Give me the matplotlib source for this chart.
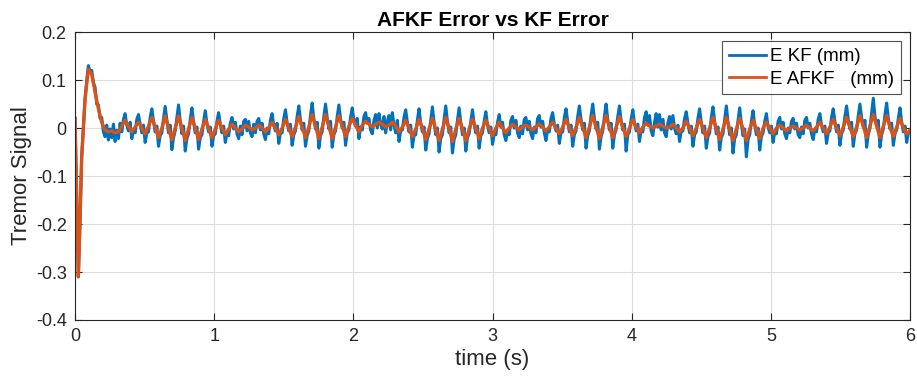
import numpy as np
import matplotlib.pyplot as plt

plt.rcParams['font.family'] = ['Liberation Sans', 'DejaVu Sans']

# AFKF error (mm), sampled every 0.024 s
e_afkf = np.array([
    20, -310, -60, 60, 122, 112, 75, 40, 12, -4,
    -8, -6, -10, -8, 4, 16, 4, -8, 2, 12,
    0, -12, 4, 22, 2, -20, 0, 25, 0, -24,
    0, 25, 0, -26, -2, 22, 0, -24, -2, 18,
    0, -20, -2, 16, 0, -14, -2, 8, 0, -8,
    -2, 6, 2, -4, 0, 6, 0, -8, 0, 12,
    0, -14, 0, 18, 0, -18, 2, 24, 2, -20,
    2, 28, 4, -22, 2, 28, 4, -22, 2, 26,
    4, -18, 4, 20, 6, -8, 6, 14, 8, 2,
    8, 12, 8, 2, 6, 12, 4, -8, 2, 16,
    0, -18, -2, 18, 0, -24, -2, 20, -2, -26,
    -2, 22, 0, -28, -2, 20, -2, -26, -2, 18,
    0, -22, 0, 16, 0, -16, 0, 12, 0, -10,
    0, 8, 2, -4, 2, 6, 2, -4, 2, 8,
    2, -6, 2, 12, 0, -12, 2, 18, 0, -16,
    2, 22, 2, -20, 2, 26, 2, -22, 2, 26,
    2, -20, 2, 24, 2, -18, 0, 18, 2, -10,
    2, 10, 4, 0, 4, 8, 4, 0, 2, 8,
    0, -8, 0, 14, 0, -16, 0, 18, 0, -20,
    0, 22, -2, -24, -2, 22, -2, -26, -2, 20,
    -2, -26, -2, 16, -2, -22, 0, 12, 0, -12,
    0, 6, 0, -6, 0, 4, 0, -4, 0, 6,
    0, -6, 2, 12, 0, -12, 2, 18, 0, -16,
    2, 22, 2, -18, 2, 26, 4, -20, 4, 28,
    4, -20, 4, 26, 2, -18, 2, 20, 0, -12,
    -4,
]) / 1000.0

# KF error (mm), sampled every 0.012 s
e_kf = np.array([
    20, -150, -310, -200, -60, 0, 60, 100, 130, 118,
    120, 95, 85, 50, 48, 20, 22, -8, -18, 6,
    -25, -2, -20, 8, -28, -5, -22, 10, -8, 18,
    30, 6, -6, 12, -22, -4, -10, 18, 28, 8,
    -10, 6, -30, -10, -8, 22, 40, 14, -8, 4,
    -38, -16, -10, 20, 45, 18, -10, 6, -45, -20,
    -6, 22, 48, 15, -12, 4, -48, -22, -12, 18,
    42, 12, -10, 2, -44, -20, -14, 14, 36, 10,
    -8, 2, -38, -16, -12, 14, 32, 8, -10, 4,
    -30, -10, -16, 10, 22, -2, 12, -12, -22, 4,
    -14, 14, 18, -6, 14, -10, -18, 8, -10, 14,
    20, -4, 10, -12, -24, 0, -12, 16, 30, 6,
    -6, 10, -32, -10, -10, 20, 38, 12, -6, 8,
    -36, -14, -6, 24, 46, 18, -4, 10, -38, -16,
    -6, 26, 52, 20, -2, 12, -42, -16, -8, 24,
    50, 22, -2, 14, -40, -14, -6, 24, 48, 20,
    0, 12, -36, -10, -4, 22, 42, 16, 4, 20,
    -22, 2, -4, 24, 32, 10, 20, -4, -12, 16,
    28, 0, 30, 8, -2, 24, -10, 14, 26, -4,
    32, 6, -10, 16, -28, -6, -4, 22, 38, 12,
    -8, 6, -40, -16, -14, 16, 40, 10, -8, 2,
    -46, -22, -12, 16, 44, 12, -14, 0, -50, -22,
    -14, 18, 46, 14, -10, 2, -52, -24, -14, 16,
    42, 12, -14, 0, -48, -20, -12, 14, 38, 8,
    -10, 4, -42, -16, -10, 14, 34, 6, -10, 2,
    -34, -12, -14, 12, 28, 2, 12, -14, -26, -4,
    -14, 16, 24, 0, 16, -10, -20, 4, -12, 18,
    22, -4, 14, -12, -22, 2, -10, 20, 26, 2,
    14, -10, -26, -4, -8, 20, 32, 8, -6, 6,
    -32, -10, -8, 22, 40, 14, -8, 6, -38, -14,
    -6, 24, 46, 18, -4, 10, -42, -16, -6, 26,
    50, 20, -2, 12, -44, -18, -6, 24, 50, 18,
    -4, 10, -42, -14, -4, 24, 46, 16, -4, 8,
    -48, -14, -8, 18, 38, 10, -6, 8, -28, -4,
    -8, 22, 34, 6, 26, -6, -16, 12, 30, 2,
    28, -4, 18, -10, -18, 10, 24, -2, 26, 0,
    -12, 6, -28, -6, -6, 20, 34, 10, -10, 4,
    -38, -14, -8, 20, 40, 12, -10, 4, -42, -18,
    -10, 22, 44, 14, -12, 2, -46, -20, -12, 18,
    46, 12, -14, 0, -52, -22, -14, 16, 42, 10,
    -16, -2, -60, -24, -14, 14, 36, 6, -14, 0,
    -46, -18, -10, 14, 30, 2, -10, 4, -30, -8,
    -12, 14, 22, -2, 12, -12, -22, 0, -10, 14,
    20, -2, 10, -14, -20, 2, -12, 16, 22, 0,
    10, -12, -24, -2, -8, 18, 30, 6, -8, 4,
    -32, -10, -6, 22, 40, 14, -8, 6, -36, -12,
    -4, 24, 46, 18, -2, 12, -38, -12, -4, 26,
    50, 22, 2, 16, -40, -14, 0, 30, 62, 24,
    4, 16, -40, -14, -2, 28, 52, 20, -2, 10,
    -36, -12, -4, 20, 42, 12, -8, 4, -30, -10,
    -6,
]) / 1000.0

t_afkf = np.arange(len(e_afkf)) * 0.024
t_kf = np.arange(len(e_kf)) * 0.012

x_ticks = [0, 1, 2, 3, 4, 5, 6]
y_ticks = [-0.4, -0.3, -0.2, -0.1, 0, 0.1, 0.2]
y_labels = ['-0.4', '-0.3', '-0.2', '-0.1', '0', '0.1', '0.2']

fig = plt.figure(figsize=(9.17, 3.86), dpi=100)
ax = fig.add_axes([0.0818, 0.171, 0.9106, 0.746])

ax.plot(t_kf, e_kf, color='#0072BD', lw=2.2, label='E KF (mm)')
ax.plot(t_afkf, e_afkf, color='#D95319', lw=2.4, label='E AFKF   (mm)')

ax.set_xlim(0, 6)
ax.set_ylim(-0.4, 0.2)
ax.set_xticks(x_ticks)
ax.set_yticks(y_ticks)
ax.set_yticklabels(y_labels)
ax.grid(True, color='#dcdcdc', lw=0.8)
ax.set_axisbelow(True)
ax.tick_params(direction='in', length=5, width=0.8, top=True, right=True,
               labelsize=13, colors='#262626', pad=6)
for s in ax.spines.values():
    s.set_color('#262626')
    s.set_linewidth(0.8)

ax.set_xlabel('time (s)', fontsize=16, color='#262626', labelpad=3)
ax.set_ylabel('Tremor Signal', fontsize=16, color='#262626', labelpad=3)
ax.set_title('AFKF Error vs KF Error', fontsize=15, fontweight='bold', pad=4)

leg = ax.legend(loc='upper right', fontsize=13.5, frameon=True, fancybox=False,
                borderaxespad=0.5, handlelength=2.0, handletextpad=0.2,
                borderpad=0.35, labelspacing=0.3)
leg.get_frame().set_edgecolor('#262626')
leg.get_frame().set_linewidth(0.8)
for h in leg.get_lines():
    h.set_linewidth(2.0)

fig.savefig('out.png', dpi=100)
